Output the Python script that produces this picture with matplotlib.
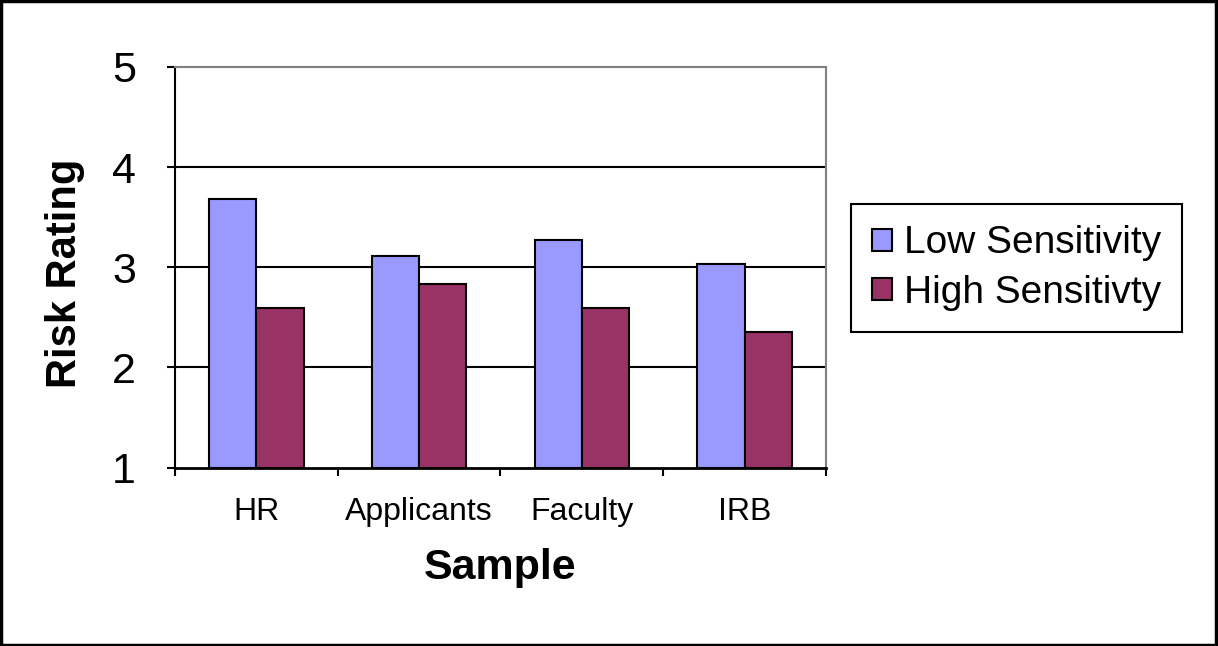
import numpy as np
import matplotlib
matplotlib.use("Agg")
import matplotlib.pyplot as plt
from matplotlib.patches import Rectangle

plt.rcParams['font.family'] = ['Liberation Sans', 'DejaVu Sans']

# data
samples = ["HR", "Applicants", "Faculty", "IRB"]
low_sens = [3.68, 3.11, 3.27, 3.03]
high_sens = [2.59, 2.83, 2.59, 2.35]
series_names = ["Low Sensitivity", "High Sensitivty"]

low_color = "#9999FF"
high_color = "#993366"

fig = plt.figure(figsize=(12.18, 6.46), dpi=100)
ax = fig.add_axes([175 / 1218, 1 - 467.5 / 646, 651 / 1218, 400.5 / 646])

x = np.arange(len(samples))
w = 0.29
ax.bar(x - w / 2, np.array(low_sens) - 1, w, bottom=1, color=low_color,
       edgecolor="black", linewidth=1.5, label=series_names[0], zorder=3)
ax.bar(x + w / 2, np.array(high_sens) - 1, w, bottom=1, color=high_color,
       edgecolor="black", linewidth=1.5, label=series_names[1], zorder=3)

ax.set_xlim(-0.5, len(samples) - 0.5)
ax.set_ylim(1, 5)

# gridlines
for yv in [2, 3, 4]:
    ax.axhline(yv, color="black", linewidth=1.5, zorder=1)

ax.set_yticks([1, 2, 3, 4, 5])
ax.set_yticklabels(["1", "2", "3", "4", "5"], fontsize=31)
ax.tick_params(axis="y", direction="out", length=6, width=1.5, pad=22)

ax.set_xticks(np.arange(len(samples) + 1) - 0.5)
ax.set_xticklabels([])
ax.set_xticks(x, minor=True)
ax.set_xticklabels(samples, minor=True, fontsize=23)
ax.tick_params(axis="x", which="major", direction="out", length=6, width=1.5)
ax.tick_params(axis="x", which="minor", length=0, pad=21)

ax.spines["left"].set_linewidth(1.5)
ax.spines["bottom"].set_linewidth(2)
ax.spines["top"].set_color("#808080")
ax.spines["right"].set_color("#808080")
ax.spines["top"].set_linewidth(1.5)
ax.spines["right"].set_linewidth(1.5)

fig.text(65 / 1218, 1 - 273 / 646, "Risk Rating", rotation=90, ha="center",
         va="center", fontsize=30, fontweight="bold")
fig.text(500 / 1218, 1 - 568 / 646, "Sample", ha="center", va="center",
         fontsize=31, fontweight="bold")

leg = fig.legend(loc="upper left", bbox_to_anchor=(851 / 1218, 1 - 204 / 646),
                 fontsize=28, frameon=True, fancybox=False, handlelength=0.5,
                 handleheight=0.5, handletextpad=0.3, labelspacing=0.35,
                 borderpad=0.55, borderaxespad=0)
leg.get_frame().set_edgecolor("black")
leg.get_frame().set_linewidth(1.5)
leg.get_frame().set_alpha(1)

# outer border
fig.patches.append(Rectangle((0.001, 0.002), 0.997, 0.997, transform=fig.transFigure,
                             fill=False, edgecolor="black", linewidth=2.5))

fig.savefig("out.png", dpi=100)
